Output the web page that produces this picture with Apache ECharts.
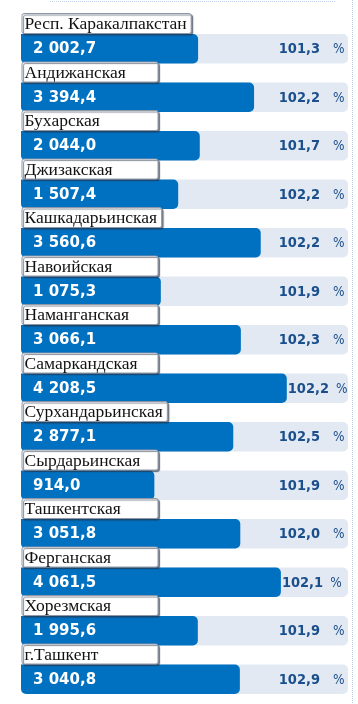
<!DOCTYPE html>
<html><head><meta charset="utf-8">
<script src="https://cdn.jsdelivr.net/npm/echarts@6/dist/echarts.min.js"></script>
<style>html,body{margin:0;padding:0;background:#fff}#c{width:358px;height:704px}</style>
</head><body><div id="c"></div>
<script>
const regions = ["Респ. Каракалпакстан","Андижанская","Бухарская","Джизакская","Кашкадарьинская","Навоийская","Наманганская","Самаркандская","Сурхандарьинская","Сырдарьинская","Ташкентская","Ферганская","Хорезмская","г.Ташкент"];
const values = [2002.7,3394.4,2044.0,1507.4,3560.6,1075.3,3066.1,4208.5,2877.1,914.0,3051.8,4061.5,1995.6,3040.8];
const growth = ["101,3","102,2","101,7","102,2","102,2","101,9","102,3","102,2","102,5","101,9","102,0","102,1","101,9","102,9"];
const valueLabels = ["2 002,7","3 394,4","2 044,0","1 507,4","3 560,6","1 075,3","3 066,1","4 208,5","2 877,1","914,0","3 051,8","4 061,5","1 995,6","3 040,8"];

const X_MIN = -2403, X_MAX = 5731;
const NAME_FONT = '17.5px "Liberation Serif"';
const PCT_FONT = 'bold 14.5px "DejaVu Sans Condensed", "DejaVu Sans"';
const PCT_SIGN_FONT = '13.5px "DejaVu Sans Condensed", "DejaVu Sans"';
const ctx = document.createElement('canvas').getContext('2d');
function tw(t, f){ ctx.font = f; return ctx.measureText(t).width; }

const chart = echarts.init(document.getElementById('c'), null, {renderer:'canvas'});
const data = values.map((v,i)=>[i, v]);

chart.setOption({
  animation:false,
  backgroundColor:'#fff',
  grid:{left:21, right:10, top:13, height:679},
  xAxis:{type:'value', min:X_MIN, max:X_MAX, show:false},
  yAxis:{type:'category', data:regions, inverse:true, show:false},
  graphic:[
    {type:'line', shape:{x1:50,y1:1.5,x2:336,y2:1.5}, style:{stroke:'#c3d4ea', lineWidth:1, lineDash:[1,1]}},
    {type:'line', shape:{x1:352.5,y1:0,x2:352.5,y2:704}, style:{stroke:'#b5cbe6', lineWidth:1, lineDash:[1,1]}}
  ],
  series:[{
    type:'custom',
    data:data,
    encode:{x:1, y:0},
    renderItem:function(params, api){
      const i = api.value(0), v = api.value(1);
      const c0 = api.coord([X_MIN, i]);
      const c1 = api.coord([v, i]);
      const c2 = api.coord([X_MAX, i]);
      const band = api.size([0,1])[1];
      const bandTop = c0[1] - band/2;
      const barTop = bandTop + 21;
      const barH = 29.5;
      const name = regions[i];
      const boxW = Math.max(136, tw(name, NAME_FONT) + 7);
      const numW = tw(growth[i], PCT_FONT);
      const numX = Math.max(320 - numW, c1[0] + 1);
      const gap = (numX > 320 - numW) ? 7 : 13;
      const cy = barTop + barH/2 + 0.5;
      return {type:'group', children:[
        {type:'rect', shape:{x:c0[0], y:barTop, width:c2[0]-c0[0], height:barH, r:5}, style:{fill:'#e3e9f2'}},
        {type:'rect', shape:{x:c0[0], y:barTop, width:c1[0]-c0[0], height:barH, r:[0,5,5,5]}, style:{fill:'#0070c0'}},
        {type:'rect', shape:{x:c0[0]+1, y:barTop-20.5, width:boxW, height:20, r:2},
          style:{fill:'#fff', stroke:'#8d97a8', lineWidth:1, shadowColor:'rgba(40,50,70,0.6)', shadowOffsetX:1.5, shadowOffsetY:1.5, shadowBlur:1}},
        {type:'text', x:c0[0]+3.5, y:barTop-9.5, style:{text:name, font:NAME_FONT, fill:'#111', verticalAlign:'middle', align:'left'}},
        {type:'text', x:c0[0]+12, y:cy, style:{text:valueLabels[i], font:'bold 15px "DejaVu Sans"', fill:'#fff', verticalAlign:'middle', align:'left'}},
        {type:'text', x:numX, y:cy, style:{text:growth[i], font:PCT_FONT, fill:'#1b4f8c', verticalAlign:'middle', align:'left'}},
        {type:'text', x:numX + numW + gap, y:cy + 0.5, style:{text:'%', font:PCT_SIGN_FONT, fill:'#1b4f8c', verticalAlign:'middle', align:'left'}}
      ]};
    }
  }]
});
</script></body></html>
